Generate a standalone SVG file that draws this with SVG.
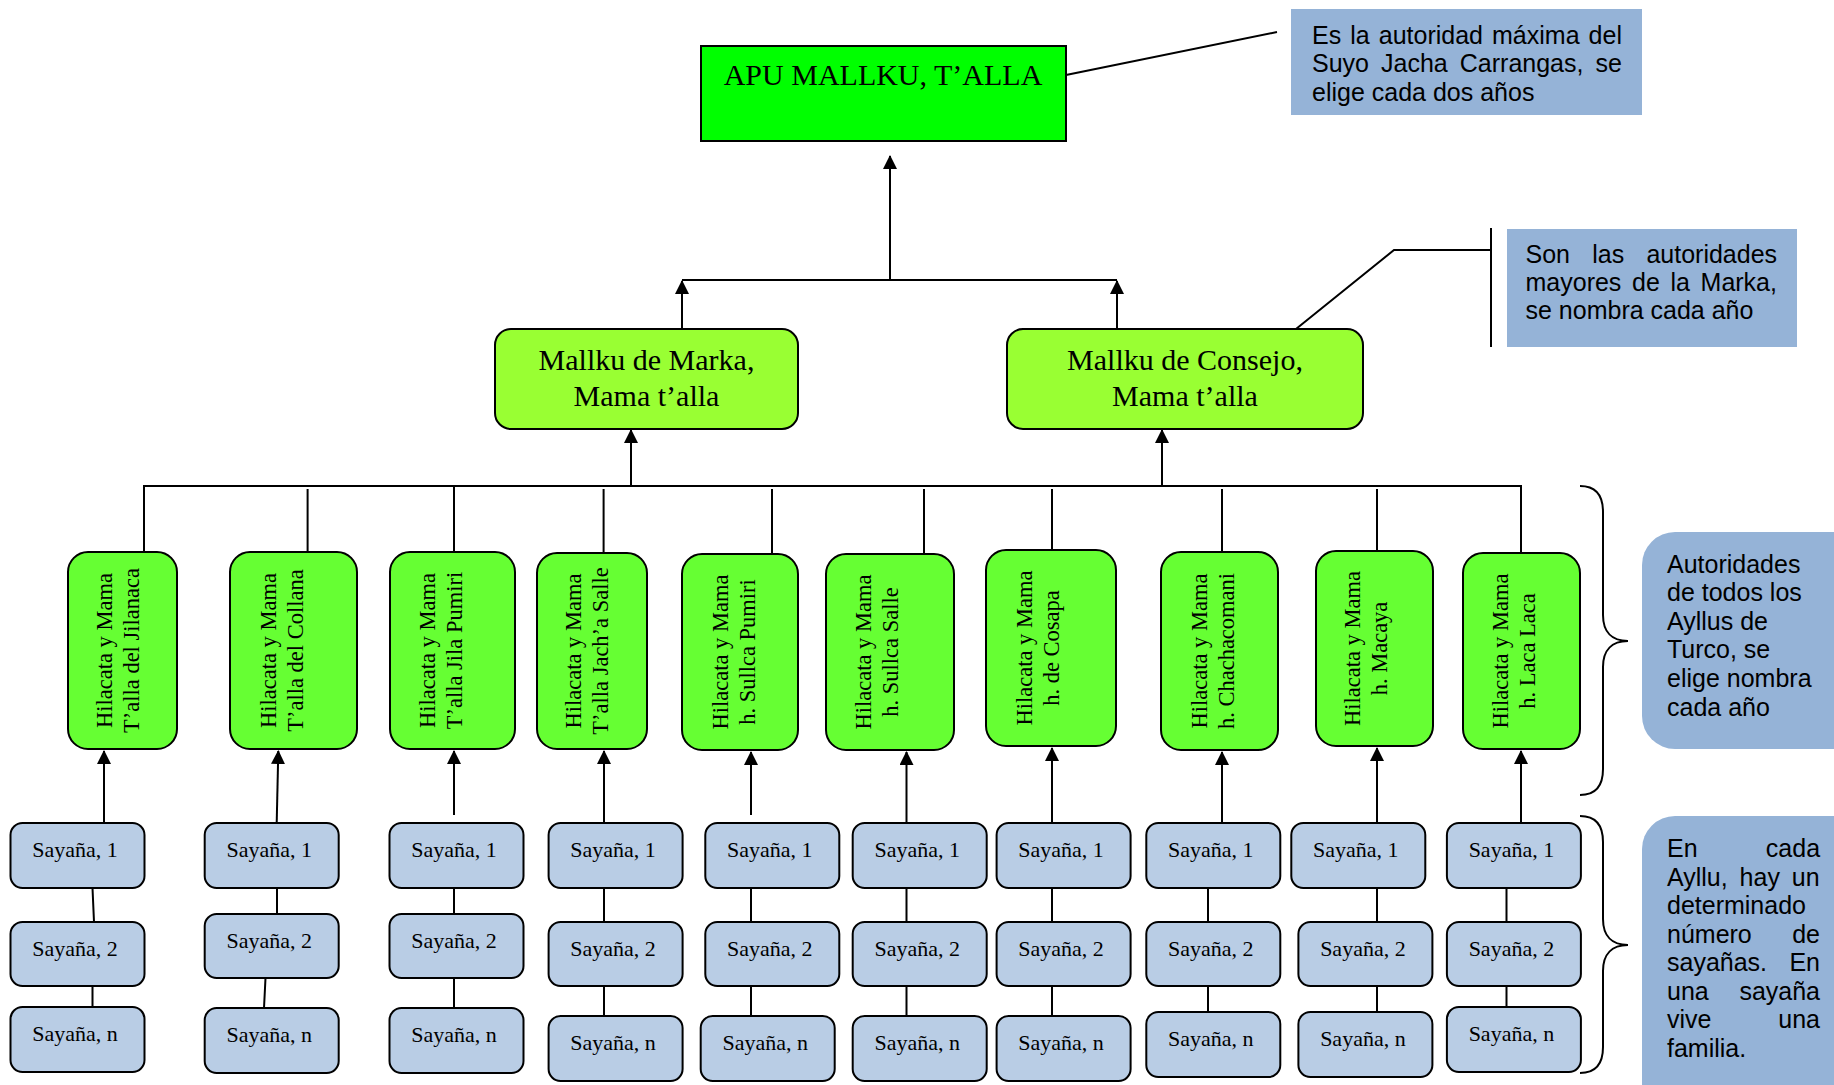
<svg xmlns="http://www.w3.org/2000/svg" width="1834" height="1085" viewBox="0 0 1834 1085">
<defs>
<marker id="ah" viewBox="0 0 14 14" refX="13" refY="7" markerWidth="14" markerHeight="14" markerUnits="userSpaceOnUse" orient="auto">
<path d="M0,0 L14,7 L0,14 z" fill="#000"/>
</marker>
<style>
.ln{stroke:#000;stroke-width:2;fill:none}
.ar{stroke:#000;stroke-width:2;fill:none;marker-end:url(#ah)}
.serif{font-family:"Liberation Serif","Times New Roman",serif;fill:#000}
.sans{font-family:"Liberation Sans",Arial,sans-serif;font-size:25px;fill:#000}
.apu rect{fill:#00FF00;stroke:#000;stroke-width:2}
.mk rect{fill:#99FF33;stroke:#000;stroke-width:2}
.mk text{font-size:30px;text-anchor:middle}
.hil rect{fill:#66FF33;stroke:#000;stroke-width:2}
.hil text{font-size:22.5px;text-anchor:middle}
.say rect{fill:#B9CDE5;stroke:#000;stroke-width:2}
.say text{font-size:22px;text-anchor:middle}
.note rect{fill:#95B3D7}
</style>
</defs>
<rect width="1834" height="1085" fill="#fff"/>

<g id="connectors">
<path class="ln" d="M1066,75 L1277,32"/>
<path class="ln" d="M1296,329 L1394,250 H1491"/>
<path class="ln" d="M1491,228 V347"/>
<path class="ar" d="M890,280 V156"/>
<path class="ln" d="M682,280 H1117"/>
<path class="ar" d="M682,329 V281"/>
<path class="ar" d="M1117,329 V281"/>
<path class="ar" d="M631,486 V430"/>
<path class="ar" d="M1162,486 V430"/>
<path class="ln" d="M144,552 V486 H1521 V553"/>
<path class="ln" d="M307.6,489 V552"/>
<path class="ln" d="M454,486 V552"/>
<path class="ln" d="M603.6,489 V553"/>
<path class="ln" d="M772,489 V554"/>
<path class="ln" d="M924,489 V554"/>
<path class="ln" d="M1052,489 V550"/>
<path class="ln" d="M1222,489 V552"/>
<path class="ln" d="M1377,489 V551"/>
<path class="ar" d="M104,823 V751"/>
<path class="ar" d="M276.7,823 L278.3,751"/>
<path class="ar" d="M454,815 V751"/>
<path class="ar" d="M604,823 V751"/>
<path class="ar" d="M751,815 V752"/>
<path class="ar" d="M906.5,823 V752"/>
<path class="ar" d="M1052,823 V748"/>
<path class="ar" d="M1222,823 V752"/>
<path class="ar" d="M1377,823 V748"/>
<path class="ar" d="M1521,823 V751"/>
<path class="ln" d="M92.5,888 L94,922 M92.5,986 V1007"/>
<path class="ln" d="M277,888 V914 M265.5,978 L264,1008"/>
<path class="ln" d="M454,888 V914 M454,978 V1008"/>
<path class="ln" d="M604,888 V922 M604,986 V1016"/>
<path class="ln" d="M751,888 V922 M751,986 V1016"/>
<path class="ln" d="M906.5,888 V922 M906.5,986 V1016"/>
<path class="ln" d="M1052,888 V922 M1052,986 V1016"/>
<path class="ln" d="M1208,888 V922 M1208,986 V1012"/>
<path class="ln" d="M1377,888 V922 M1377,986 V1012"/>
<path class="ln" d="M1506.5,888 V922 M1506.5,986 V1007"/>
<path class="ln" d="M1580,486 C1595,486 1603,494 1603,512 L1603,615 C1603,632 1612,641 1628,641 C1612,641 1603,650 1603,667 L1603,769 C1603,787 1595,795 1580,795"/>
<path class="ln" d="M1580,816 C1595,816 1603,824 1603,842 L1603,919 C1603,936 1612,945 1628,945 C1612,945 1603,954 1603,971 L1603,1047 C1603,1065 1595,1073 1580,1073"/>
</g>

<g id="apu" class="apu">
<rect x="701" y="46" width="365" height="95"/>
<text class="serif" x="883" y="85" font-size="30" text-anchor="middle">APU MALLKU, T’ALLA</text>
</g>

<g id="mallku-marka" class="mk">
<rect x="495" y="329" width="303" height="100" rx="16"/>
<text class="serif"><tspan x="646.5" y="370">Mallku de Marka,</tspan><tspan x="646.5" y="406">Mama t’alla</tspan></text>
</g>
<g id="mallku-consejo" class="mk">
<rect x="1007" y="329" width="356" height="100" rx="16"/>
<text class="serif"><tspan x="1185" y="370">Mallku de Consejo,</tspan><tspan x="1185" y="406">Mama t’alla</tspan></text>
</g>

<g id="hil1" class="hil"><rect x="68" y="552" width="109" height="197" rx="20"/>
<text class="serif" transform="translate(112,650.5) rotate(-90)"><tspan x="0" y="0">Hilacata y Mama</tspan><tspan x="0" y="26.5">T’alla del Jilanaca</tspan></text></g>
<g id="hil2" class="hil"><rect x="230" y="552" width="127" height="197" rx="20"/>
<text class="serif" transform="translate(276,650.5) rotate(-90)"><tspan x="0" y="0">Hilacata y Mama</tspan><tspan x="0" y="26.5">T’alla del Collana</tspan></text></g>
<g id="hil3" class="hil"><rect x="390" y="552" width="125" height="197" rx="20"/>
<text class="serif" transform="translate(435,650.5) rotate(-90)"><tspan x="0" y="0">Hilacata y Mama</tspan><tspan x="0" y="26.5">T’alla Jila Pumiri</tspan></text></g>
<g id="hil4" class="hil"><rect x="537" y="553" width="110" height="196" rx="20"/>
<text class="serif" transform="translate(581,651) rotate(-90)"><tspan x="0" y="0">Hilacata y Mama</tspan><tspan x="0" y="26.5">T’alla Jach’a Salle</tspan></text></g>
<g id="hil5" class="hil"><rect x="682" y="554" width="116" height="196" rx="20"/>
<text class="serif" transform="translate(728,652) rotate(-90)"><tspan x="0" y="0">Hilacata y Mama</tspan><tspan x="0" y="26.5">h. Sullca Pumiri</tspan></text></g>
<g id="hil6" class="hil"><rect x="826" y="554" width="128" height="196" rx="20"/>
<text class="serif" transform="translate(871,652) rotate(-90)"><tspan x="0" y="0">Hilacata y Mama</tspan><tspan x="0" y="26.5">h. Sullca Salle</tspan></text></g>
<g id="hil7" class="hil"><rect x="986" y="550" width="130" height="196" rx="20"/>
<text class="serif" transform="translate(1032,648) rotate(-90)"><tspan x="0" y="0">Hilacata y Mama</tspan><tspan x="0" y="26.5">h. de Cosapa</tspan></text></g>
<g id="hil8" class="hil"><rect x="1161" y="552" width="117" height="198" rx="20"/>
<text class="serif" transform="translate(1207,651) rotate(-90)"><tspan x="0" y="0">Hilacata y Mama</tspan><tspan x="0" y="26.5">h. Chachacomani</tspan></text></g>
<g id="hil9" class="hil"><rect x="1316" y="551" width="117" height="195" rx="20"/>
<text class="serif" transform="translate(1360,648.5) rotate(-90)"><tspan x="0" y="0">Hilacata y Mama</tspan><tspan x="0" y="26.5">h. Macaya</tspan></text></g>
<g id="hil10" class="hil"><rect x="1463" y="553" width="117" height="196" rx="20"/>
<text class="serif" transform="translate(1508,651) rotate(-90)"><tspan x="0" y="0">Hilacata y Mama</tspan><tspan x="0" y="26.5">h. Laca Laca</tspan></text></g>

<g id="s1-1" class="say"><rect x="10.5" y="823" width="134" height="65" rx="12"/><text class="serif" x="75" y="857">Sayaña, 1</text></g>
<g id="s1-2" class="say"><rect x="10.5" y="922" width="134" height="64" rx="12"/><text class="serif" x="75" y="956">Sayaña, 2</text></g>
<g id="s1-n" class="say"><rect x="10.5" y="1007" width="134" height="65" rx="12"/><text class="serif" x="75" y="1041">Sayaña, n</text></g>

<g id="s2-1" class="say"><rect x="204.7" y="823" width="134" height="65" rx="12"/><text class="serif" x="269.2" y="857">Sayaña, 1</text></g>
<g id="s2-2" class="say"><rect x="204.7" y="914" width="134" height="64" rx="12"/><text class="serif" x="269.2" y="948">Sayaña, 2</text></g>
<g id="s2-n" class="say"><rect x="204.7" y="1008" width="134" height="65" rx="12"/><text class="serif" x="269.2" y="1042">Sayaña, n</text></g>

<g id="s3-1" class="say"><rect x="389.5" y="823" width="134" height="65" rx="12"/><text class="serif" x="454" y="857">Sayaña, 1</text></g>
<g id="s3-2" class="say"><rect x="389.5" y="914" width="134" height="64" rx="12"/><text class="serif" x="454" y="948">Sayaña, 2</text></g>
<g id="s3-n" class="say"><rect x="389.5" y="1008" width="134" height="65" rx="12"/><text class="serif" x="454" y="1042">Sayaña, n</text></g>

<g id="s4-1" class="say"><rect x="548.6" y="823" width="134" height="65" rx="12"/><text class="serif" x="613.1" y="857">Sayaña, 1</text></g>
<g id="s4-2" class="say"><rect x="548.6" y="922" width="134" height="64" rx="12"/><text class="serif" x="613.1" y="956">Sayaña, 2</text></g>
<g id="s4-n" class="say"><rect x="548.6" y="1016" width="134" height="65" rx="12"/><text class="serif" x="613.1" y="1050">Sayaña, n</text></g>

<g id="s5-1" class="say"><rect x="705.3" y="823" width="134" height="65" rx="12"/><text class="serif" x="769.8" y="857">Sayaña, 1</text></g>
<g id="s5-2" class="say"><rect x="705.3" y="922" width="134" height="64" rx="12"/><text class="serif" x="769.8" y="956">Sayaña, 2</text></g>
<g id="s5-n" class="say"><rect x="700.7" y="1016" width="134" height="65" rx="12"/><text class="serif" x="765.2" y="1050">Sayaña, n</text></g>

<g id="s6-1" class="say"><rect x="852.7" y="823" width="134" height="65" rx="12"/><text class="serif" x="917.2" y="857">Sayaña, 1</text></g>
<g id="s6-2" class="say"><rect x="852.7" y="922" width="134" height="64" rx="12"/><text class="serif" x="917.2" y="956">Sayaña, 2</text></g>
<g id="s6-n" class="say"><rect x="852.7" y="1016" width="134" height="65" rx="12"/><text class="serif" x="917.2" y="1050">Sayaña, n</text></g>

<g id="s7-1" class="say"><rect x="996.6" y="823" width="134" height="65" rx="12"/><text class="serif" x="1061.1" y="857">Sayaña, 1</text></g>
<g id="s7-2" class="say"><rect x="996.6" y="922" width="134" height="64" rx="12"/><text class="serif" x="1061.1" y="956">Sayaña, 2</text></g>
<g id="s7-n" class="say"><rect x="996.6" y="1016" width="134" height="65" rx="12"/><text class="serif" x="1061.1" y="1050">Sayaña, n</text></g>

<g id="s8-1" class="say"><rect x="1146.3" y="823" width="134" height="65" rx="12"/><text class="serif" x="1210.8" y="857">Sayaña, 1</text></g>
<g id="s8-2" class="say"><rect x="1146.3" y="922" width="134" height="64" rx="12"/><text class="serif" x="1210.8" y="956">Sayaña, 2</text></g>
<g id="s8-n" class="say"><rect x="1146.3" y="1012" width="134" height="65" rx="12"/><text class="serif" x="1210.8" y="1046">Sayaña, n</text></g>

<g id="s9-1" class="say"><rect x="1291.3" y="823" width="134" height="65" rx="12"/><text class="serif" x="1355.8" y="857">Sayaña, 1</text></g>
<g id="s9-2" class="say"><rect x="1298.4" y="922" width="134" height="64" rx="12"/><text class="serif" x="1362.9" y="956">Sayaña, 2</text></g>
<g id="s9-n" class="say"><rect x="1298.4" y="1012" width="134" height="65" rx="12"/><text class="serif" x="1362.9" y="1046">Sayaña, n</text></g>

<g id="s10-1" class="say"><rect x="1446.9" y="823" width="134" height="65" rx="12"/><text class="serif" x="1511.4" y="857">Sayaña, 1</text></g>
<g id="s10-2" class="say"><rect x="1446.9" y="922" width="134" height="64" rx="12"/><text class="serif" x="1511.4" y="956">Sayaña, 2</text></g>
<g id="s10-n" class="say"><rect x="1446.9" y="1007" width="134" height="65" rx="12"/><text class="serif" x="1511.4" y="1041">Sayaña, n</text></g>

<g id="note1" class="note">
<rect x="1291" y="9" width="351" height="106"/>
<text class="sans"><tspan x="1312" y="44" word-spacing="2.1">Es la autoridad máxima del</tspan><tspan x="1312" y="72" word-spacing="5.1">Suyo Jacha Carrangas, se</tspan><tspan x="1312" y="101">elige cada dos años</tspan></text>
</g>
<g id="note2" class="note">
<rect x="1507" y="229" width="290" height="118"/>
<text class="sans"><tspan x="1525.5" y="263" word-spacing="15.3">Son las autoridades</tspan><tspan x="1525.5" y="291" word-spacing="3.7">mayores de la Marka,</tspan><tspan x="1525.5" y="319">se nombra cada año</tspan></text>
</g>
<g id="note3" class="note">
<rect x="1642" y="532" width="240" height="217" rx="33"/>
<text class="sans"><tspan x="1667" y="573">Autoridades</tspan><tspan x="1667" y="601">de todos los</tspan><tspan x="1667" y="630">Ayllus de</tspan><tspan x="1667" y="658">Turco, se</tspan><tspan x="1667" y="687">elige nombra</tspan><tspan x="1667" y="716">cada año</tspan></text>
</g>
<g id="note4" class="note">
<rect x="1642" y="816" width="240" height="320" rx="33"/>
<text class="sans"><tspan x="1667" y="857" word-spacing="61.3">En cada</tspan><tspan x="1667" y="886" word-spacing="4.95">Ayllu, hay un</tspan><tspan x="1667" y="914">determinado</tspan><tspan x="1667" y="943" word-spacing="33.5">número de</tspan><tspan x="1667" y="971" word-spacing="15.4">sayañas. En</tspan><tspan x="1667" y="1000" word-spacing="23.75">una sayaña</tspan><tspan x="1667" y="1028" word-spacing="59.9">vive una</tspan><tspan x="1667" y="1057">familia.</tspan></text>
</g>
</svg>
